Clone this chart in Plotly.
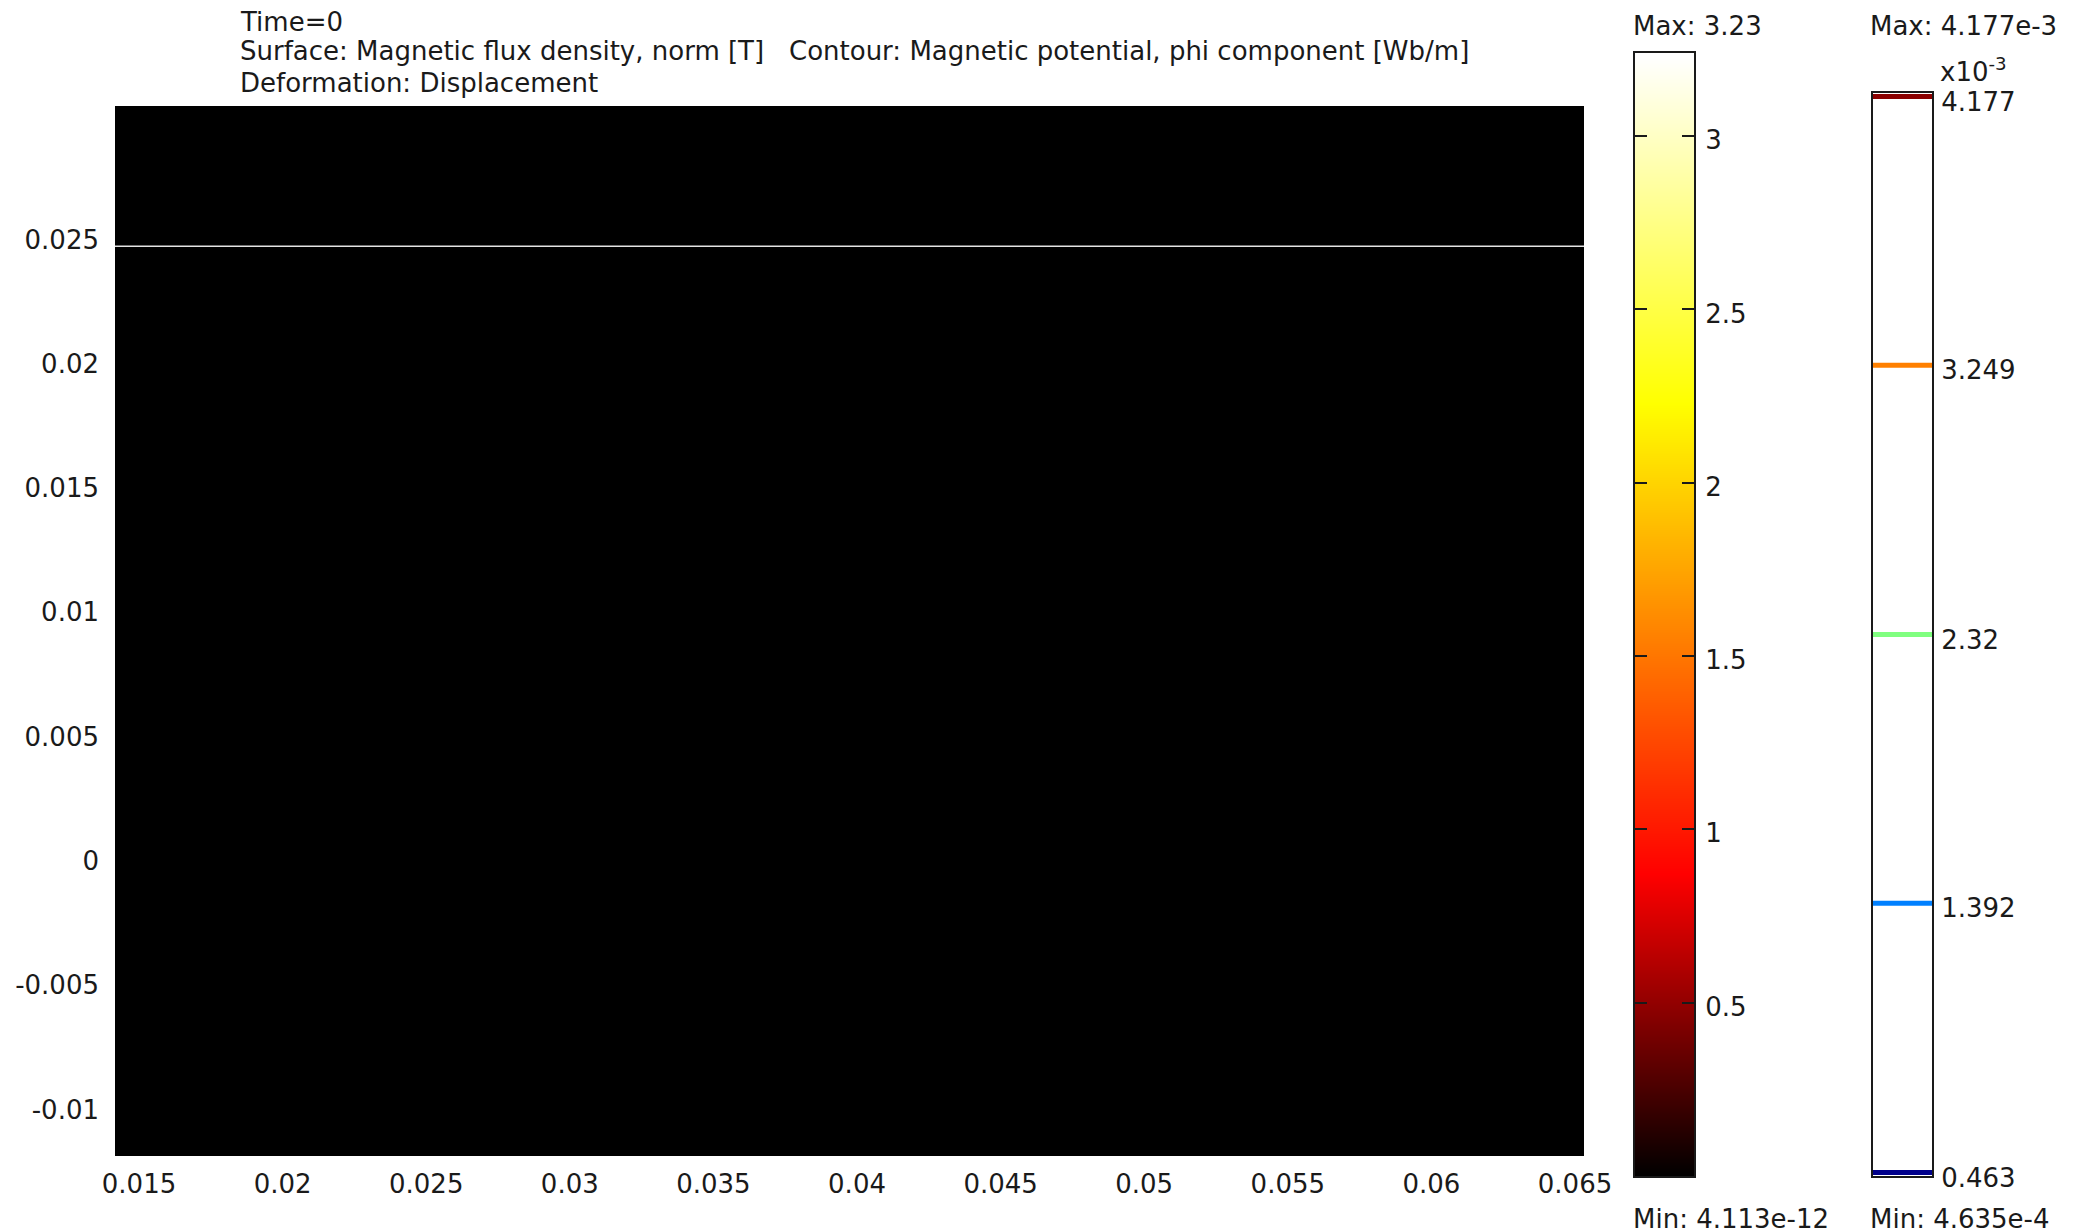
import plotly.graph_objects as go

W, H = 2080, 1232
PAGE_OFFSET = 8  # the page body adds an 8px margin around the figure

# ---------------- data ----------------
x_ticks = [0.015, 0.02, 0.025, 0.03, 0.035, 0.04, 0.045, 0.05, 0.055, 0.06, 0.065]
x_tick_labels = ["0.015", "0.02", "0.025", "0.03", "0.035", "0.04", "0.045", "0.05", "0.055", "0.06", "0.065"]
y_ticks = [-0.01, -0.005, 0, 0.005, 0.01, 0.015, 0.02, 0.025]
y_tick_labels = ["-0.01", "-0.005", "0", "0.005", "0.01", "0.015", "0.02", "0.025"]

# surface (magnetic flux density norm, T) over the visible region, two domains
surface_x = [0.014164, 0.065313]            # cell edges
surface_y = [-0.011862, 0.02472, 0.030365]  # cell edges (domain boundary at 0.02472)
surface_B = [[4.113e-12], [4.113e-12]]
domain_boundary_y = [0.02472, 0.02472]

B_min, B_max = 4.113e-12, 3.23
B_ticks = [0.5, 1, 1.5, 2, 2.5, 3]
B_tick_labels = ["0.5", "1", "1.5", "2", "2.5", "3"]

# contour levels of magnetic potential (x1e-3 Wb/m)
A_levels = [0.463, 1.392, 2.32, 3.249, 4.177]
A_level_labels = ["0.463", "1.392", "2.32", "3.249", "4.177"]
A_min_text = "4.635e-4"
A_max_text = "4.177e-3"

# ---------------- styles ----------------
heat = [[0.0, "#000000"], [0.27, "#ff0000"], [0.69, "#ffff00"], [1.0, "#ffffff"]]
contour_colors = ["#00008b", "#0080ff", "#80ff80", "#ff8000", "#8b0000"]
FONT = "DejaVu Sans"
TXT = "#1a1a1a"
FS = 26


def px_x(p):
    return (p - PAGE_OFFSET) / W


def px_y(p):
    return 1 - (p - PAGE_OFFSET) / H


fig = go.Figure()

# main surface
fig.add_trace(go.Heatmap(
    x=surface_x, y=surface_y, z=surface_B,
    colorscale=heat, zmin=B_min, zmax=B_max, showscale=False,
    hoverinfo="skip", xaxis="x", yaxis="y"))

# domain boundary gap
fig.add_trace(go.Scatter(
    x=surface_x, y=domain_boundary_y, mode="lines",
    line=dict(color="#e4e4e4", width=1.5), hoverinfo="skip",
    xaxis="x", yaxis="y"))

# surface colour legend (gradient between min and max)
fig.add_trace(go.Heatmap(
    x=[0, 1], y=[B_min, B_max], z=[[B_min, B_min], [B_max, B_max]],
    zsmooth="best", colorscale=heat, zmin=B_min, zmax=B_max,
    showscale=False, hoverinfo="skip", xaxis="x2", yaxis="y2"))

# contour legend lines
for lvl, col in zip(A_levels, contour_colors):
    fig.add_trace(go.Scatter(
        x=[0, 1], y=[lvl, lvl], mode="lines",
        line=dict(color=col, width=5), hoverinfo="skip",
        xaxis="x3", yaxis="y3", cliponaxis=True))

tickfont = dict(family=FONT, size=FS, color=TXT)
common = dict(showgrid=False, zeroline=False, automargin=False)

fig.update_layout(
    template="none",
    width=W, height=H,
    margin=dict(l=0, r=0, t=0, b=0, pad=0, autoexpand=False),
    paper_bgcolor="white", plot_bgcolor="white",
    showlegend=False,
    font=dict(family=FONT, size=FS, color=TXT),
    xaxis=dict(domain=[px_x(115), px_x(1584)], range=[surface_x[0], surface_x[-1]],
               tickvals=x_ticks, ticktext=x_tick_labels, ticks="", showline=False,
               tickfont=tickfont, ticklabelstandoff=10, anchor="y", **common),
    yaxis=dict(domain=[px_y(1156), px_y(106)], range=[surface_y[0], surface_y[-1]],
               tickvals=y_ticks, ticktext=y_tick_labels, ticks="", showline=False,
               tickfont=tickfont, ticklabelstandoff=15, anchor="x", **common),
    xaxis2=dict(domain=[px_x(1635), px_x(1694)], range=[0, 1], anchor="y2",
                showline=True, mirror=True, linewidth=2, linecolor=TXT,
                showticklabels=False, ticks="", **common),
    yaxis2=dict(domain=[px_y(1176), px_y(53)], range=[B_min, B_max * 1.003], anchor="x2",
                side="right", showline=True, mirror="ticks", linewidth=2, linecolor=TXT,
                ticks="inside", ticklen=12, tickwidth=1.5, tickcolor=TXT,
                tickvals=B_ticks, ticktext=B_tick_labels, tickfont=tickfont,
                ticklabelshift=4, ticklabelstandoff=4, **common),
    xaxis3=dict(domain=[px_x(1873), px_x(1932)], range=[0, 1], anchor="y3",
                showline=True, mirror=True, linewidth=2, linecolor=TXT,
                showticklabels=False, ticks="", **common),
    yaxis3=dict(domain=[px_y(1176), px_y(93)],
                range=[A_levels[0] - 0.012, A_levels[-1] + 0.012], anchor="x3",
                side="right", showline=True, mirror=True, linewidth=2, linecolor=TXT,
                ticks="", tickvals=A_levels, ticktext=A_level_labels, tickfont=tickfont,
                ticklabelshift=5, ticklabelstandoff=2, **common),
)


def note(text, x, y):
    fig.add_annotation(text=text, x=px_x(x), y=px_y(y), xref="paper", yref="paper",
                       xanchor="left", yanchor="middle", showarrow=False,
                       font=dict(family=FONT, size=FS, color=TXT))


note("Time=0", 238, 22)
note("Surface: Magnetic flux density, norm [T]", 238, 51)
note("Contour: Magnetic potential, phi component [Wb/m]", 787, 51)
note("Deformation: Displacement", 238, 83)
note("Max: " + f"{B_max:g}", 1631, 26)
note("Min: " + f"{B_min:.4g}", 1631, 1219)
note("Max: " + A_max_text, 1868, 26)
note("Min: " + A_min_text, 1868, 1219)
note("x10<sup>-3</sup>", 1938, 70)

fig.write_html("out.html")
